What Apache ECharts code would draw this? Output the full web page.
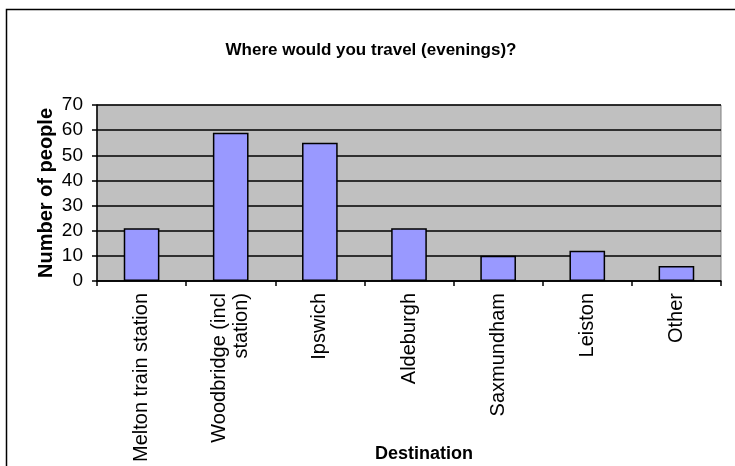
<!DOCTYPE html>
<html>
<head>
<meta charset="utf-8">
<script src="https://cdn.jsdelivr.net/npm/echarts@6/dist/echarts.min.js"></script>
<style>html,body{margin:0;padding:0;background:#fff}#c{width:735px;height:466px}</style>
</head>
<body>
<div id="c"></div>
<script>
const categories = ['Melton train station', 'Woodbridge (incl\nstation)', 'Ipswich', 'Aldeburgh', 'Saxmundham', 'Leiston', 'Other'];
const values = [21, 59, 55, 21, 10, 12, 6];
const yTicks = { min: 0, max: 70, interval: 10 };
const titleText = 'Where would you travel (evenings)?';
const xName = 'Destination';
const yName = 'Number of people';

const font = 'Arial, "Liberation Sans", sans-serif';
const chart = echarts.init(document.getElementById('c'), null, { renderer: 'canvas' });
chart.setOption({
  animation: false,
  backgroundColor: '#fff',
  graphic: [{
    type: 'rect', shape: { x: 6.5, y: 9.5, width: 760, height: 480 },
    style: { fill: 'none', stroke: '#000', lineWidth: 1.5 }, silent: true
  }],
  title: {
    text: titleText, left: 366, top: 37, textAlign: 'center',
    textStyle: { fontFamily: font, fontWeight: 'bold', fontSize: 17, color: '#000' }
  },
  grid: {
    left: 97, right: 14, top: 105, bottom: 185, show: true,
    outerBoundsMode: 'none', containLabel: false,
    backgroundColor: '#C0C0C0', borderColor: '#808080', borderWidth: 1
  },
  xAxis: {
    type: 'category', data: categories,
    name: xName, nameLocation: 'middle', nameGap: 164, nameMoveOverlap: false,
    nameTextStyle: { fontFamily: font, fontWeight: 'bold', fontSize: 18, color: '#000', padding: [0, 0, 0, 30] },
    axisLine: { lineStyle: { color: '#000', width: 1.5 } },
    axisTick: { show: true, alignWithLabel: false, length: 5, lineStyle: { color: '#000', width: 1.5 } },
    axisLabel: { rotate: 90, interval: 0, margin: 12, fontFamily: font, fontSize: 20, color: '#000', lineHeight: 22 },
    splitLine: { show: false }
  },
  yAxis: {
    type: 'value', min: yTicks.min, max: yTicks.max, interval: yTicks.interval,
    name: yName, nameLocation: 'middle', nameGap: 41, nameRotate: 90, nameMoveOverlap: false,
    nameTextStyle: { fontFamily: font, fontWeight: 'bold', fontSize: 20, color: '#000' },
    axisLine: { show: true, lineStyle: { color: '#000', width: 1.5 } },
    axisTick: { show: true, length: 5, lineStyle: { color: '#000', width: 1.5 } },
    axisLabel: { margin: 14, fontFamily: font, fontSize: 19, color: '#000' },
    splitLine: { show: true, lineStyle: { color: '#000', width: 1.5 } }
  },
  series: [{
    type: 'bar', data: values, barCategoryGap: '60%',
    itemStyle: { color: '#9999FF', borderColor: '#000', borderWidth: 1.5 }
  }]
});
</script>
</body>
</html>
